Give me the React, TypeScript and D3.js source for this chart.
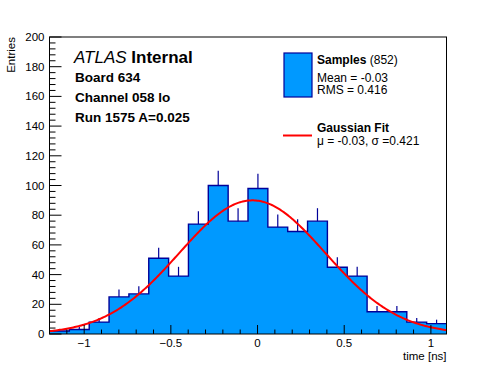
import React from 'react';
import * as d3 from 'd3';

// ---- data ----
const binCounts = [2, 3, 8, 25, 27, 51, 39, 74, 100, 76, 98, 72, 69, 76, 45, 39, 15, 15, 8, 7];
const xDomain = [-1.2, 1.09];
const yDomain = [0, 200];
const yTickValues = [0, 20, 40, 60, 80, 100, 120, 140, 160, 180, 200];
const xTickValues = [-1, -0.5, 0, 0.5, 1];
const xTickLabels = ['\u22121', '\u22120.5', '0', '0.5', '1'];
const fitMu = -0.03;
const fitSigma = 0.421;
const fitAmp = 90;
const entries = 852;
const meanText = 'Mean = -0.03';
const rmsText = 'RMS = 0.416';
const fitText = '\u03bc = -0.03, \u03c3 =0.421';
const infoLines = ['Board 634', 'Channel 058 lo', 'Run 1575 A=0.025'];

const W = 496;
const H = 372;
const L = 49.5, R = 446.5, T = 37, B = 334;
const FONT = '"Liberation Sans", Arial, Helvetica, sans-serif';
const FILL = '#0099ff';
const LINE = '#000099';

export default function App() {
  const x = d3.scaleLinear().domain(xDomain).range([L, R]);
  const y = d3.scaleLinear().domain(yDomain).range([B, T]);
  const nb = binCounts.length;
  const bw = (xDomain[1] - xDomain[0]) / nb;
  const edges = d3.range(nb + 1).map(i => xDomain[0] + i * bw);

  // step path
  const pts: [number, number][] = [];
  pts.push([x(edges[0]), y(0)]);
  binCounts.forEach((c, i) => {
    pts.push([x(edges[i]), y(c)]);
    pts.push([x(edges[i + 1]), y(c)]);
  });
  pts.push([x(edges[nb]), y(0)]);
  const area = 'M' + pts.map(p => p.join(',')).join('L') + 'Z';
  const outline = 'M' + pts.slice(1, -1).map(p => p.join(',')).join('L');

  const gaussX = d3.range(0, 301).map(i => xDomain[0] + (i / 300) * (xDomain[1] - xDomain[0]));
  const gauss = d3.line<number>()
    .x(v => x(v))
    .y(v => y(fitAmp * Math.exp(-((v - fitMu) ** 2) / (2 * fitSigma * fitSigma))))
    .curve(d3.curveLinear)(gaussX) as string;

  const yMinor = d3.range(0, 201, 4).filter(v => v % 20 !== 0);
  const xMinor = d3.range(-12, 11).map(v => v / 10).filter(v => Math.abs(v * 2 - Math.round(v * 2)) > 1e-6 && v >= xDomain[0] - 1e-9 && v <= xDomain[1]);

  return (
    <svg width={W} height={H} style={{ position: 'absolute', left: 0, top: 0, background: '#fff' }} fontFamily={FONT}>
      <rect x={0} y={0} width={W} height={H} fill="#fff" />
      <path d={area} fill={FILL} stroke="none" />
      <path d={outline} fill="none" stroke={LINE} strokeWidth={1.4} />
      {binCounts.map((c, i) => {
        const cx = x((edges[i] + edges[i + 1]) / 2);
        return <line key={i} x1={cx} x2={cx} y1={y(c)} y2={y(c + Math.sqrt(c))} stroke={LINE} strokeWidth={1.2} />;
      })}
      <path d={gauss} fill="none" stroke="#ff0000" strokeWidth={2} />
      {/* frame */}
      <rect x={L} y={T} width={R - L} height={B - T} fill="none" stroke="#000" strokeWidth={1} />
      {/* y ticks */}
      {yTickValues.map(v => (
        <g key={'y' + v}>
          <line x1={L} x2={L + 12} y1={y(v)} y2={y(v)} stroke="#000" />
          <text x={L - 5} y={y(v) + 4} fontSize={11.5} textAnchor="end">{v}</text>
        </g>
      ))}
      {yMinor.map(v => <line key={'ym' + v} x1={L} x2={L + 6} y1={y(v)} y2={y(v)} stroke="#000" />)}
      {/* x ticks */}
      {xTickValues.map((v, i) => (
        <g key={'x' + v}>
          <line x1={x(v)} x2={x(v)} y1={B} y2={B - 9} stroke="#000" />
          <text x={x(v)} y={B + 12.5} fontSize={11.5} textAnchor="middle">{xTickLabels[i]}</text>
        </g>
      ))}
      {xMinor.map(v => <line key={'xm' + v} x1={x(v)} x2={x(v)} y1={B} y2={B - 4.5} stroke="#000" />)}
      <text x={R} y={360} fontSize={11.5} textAnchor="end">time [ns]</text>
      <text transform={`translate(15,${T}) rotate(-90)`} fontSize={11.5} textAnchor="end">Entries</text>
      {/* ATLAS label */}
      <text x={74} y={63} fontSize={17}>
        <tspan fontStyle="italic">ATLAS</tspan>
        <tspan fontWeight="bold"> Internal</tspan>
      </text>
      {infoLines.map((t, i) => (
        <text key={t} x={75} y={81.5 + i * 20} fontSize={13.5} fontWeight="bold">{t}</text>
      ))}
      {/* legend */}
      <rect x={284} y={53} width={28} height={44} fill={FILL} stroke={LINE} strokeWidth={1.2} />
      <text x={317} y={64} fontSize={12}>
        <tspan fontWeight="bold">Samples</tspan>
        <tspan> ({entries})</tspan>
      </text>
      <text x={317} y={81.5} fontSize={12}>{meanText}</text>
      <text x={317} y={94} fontSize={12}>{rmsText}</text>
      <line x1={283} x2={312} y1={135.5} y2={135.5} stroke="#ff0000" strokeWidth={2} />
      <text x={317} y={132} fontSize={12} fontWeight="bold">Gaussian Fit</text>
      <text x={317} y={145} fontSize={12}>{fitText}</text>
    </svg>
  );
}
